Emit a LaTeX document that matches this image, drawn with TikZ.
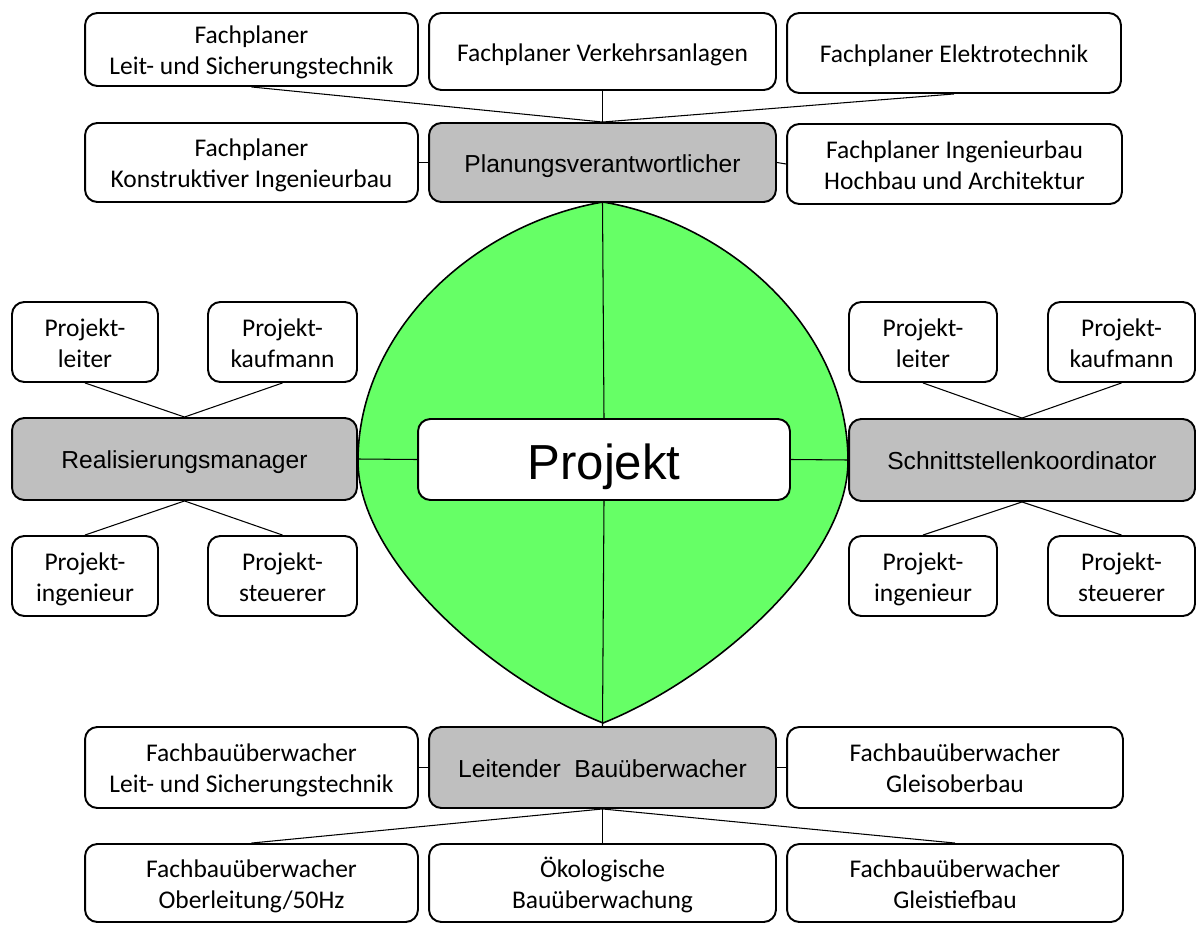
\documentclass[tikz,border=0pt]{standalone}
\usepackage{fontspec}
\setmainfont{Carlito}
\newfontfamily\arialfont{Liberation Sans}

\definecolor{projgreen}{HTML}{66FF66}
\definecolor{leadgray}{HTML}{BFBFBF}

% two text lines, first one with a fixed height
\newcommand{\zweizeilig}[2]{\rule{0pt}{14.2pt}#1\\#2}

\tikzset{
  strutted/.style 2 args={execute at begin node={\rule{0pt}{#1}},
    execute at end node={\rule[-#2]{0pt}{0pt}}},
  fach/.style={draw, line width=1.1pt, rounded corners=7pt, fill=white,
    align=center, inner sep=0pt, font=\fontsize{14.5}{17.6}\selectfont,
    strutted={14.2pt}{3.2pt}},
  lead/.style={fach, fill=leadgray, font=\arialfont\fontsize{14}{17}\selectfont,
    strutted={14.5pt}{3.5pt}},
  link/.style={line width=0.6pt},
}

\begin{document}
\begin{tikzpicture}[x=0.02cm,y=-0.02cm]
\useasboundingbox (0,0) rectangle (1200,926);

% Project shape
\draw[fill=projgreen, line width=0.9pt] (603,202)
  .. controls (474,224) and (358,331) .. (358,461)
  .. controls (358,561) and (493,679) .. (603,723)
  .. controls (713,679) and (848,561) .. (848,461)
  .. controls (848,331) and (732,224) .. (603,202) -- cycle;

\node[fach, minimum width=7.44cm, minimum height=1.62cm,
  font=\arialfont\fontsize{28}{32}\selectfont, strutted={28.2pt}{6pt}] (projekt) at (604,459.5) {Projekt};

% Planning
\node[fach, minimum width=6.66cm, minimum height=1.46cm] (fpLST) at (251.5,49.5) {\zweizeilig{Fachplaner}{Leit- und Sicherungstechnik}};
\node[fach, minimum width=6.94cm, minimum height=1.54cm] (fpVA) at (602.5,51.5) {Fachplaner Verkehrsanlagen};
\node[fach, minimum width=6.68cm, minimum height=1.6cm] (fpET) at (954,53) {Fachplaner Elektrotechnik};
\node[fach, minimum width=6.66cm, minimum height=1.58cm] (fpKI) at (251.5,162.5) {\zweizeilig{Fachplaner}{Konstruktiver Ingenieurbau}};
\node[lead, minimum width=6.94cm, minimum height=1.58cm] (plan) at (602.5,162.5) {Planungsverantwortlicher};
\node[fach, minimum width=6.7cm, minimum height=1.6cm] (fpIH) at (954.5,164) {\zweizeilig{Fachplaner Ingenieurbau}{Hochbau und Architektur}};

% Realisation (left)
\node[fach, minimum width=2.92cm, minimum height=1.6cm] (lLeiter) at (85,342) {\zweizeilig{Projekt-}{leiter}};
\node[fach, minimum width=2.98cm, minimum height=1.6cm] (lKauf) at (282.5,342) {\zweizeilig{Projekt-}{kaufmann}};
\node[lead, minimum width=6.9cm, minimum height=1.64cm] (real) at (184.5,459) {Realisierungsmanager};
\node[fach, minimum width=2.92cm, minimum height=1.6cm] (lIng) at (85,576) {\zweizeilig{Projekt-}{ingenieur}};
\node[fach, minimum width=2.98cm, minimum height=1.6cm] (lSteu) at (282.5,576) {\zweizeilig{Projekt-}{steuerer}};

% Interfaces (right)
\node[fach, minimum width=2.96cm, minimum height=1.6cm] (rLeiter) at (923,342) {\zweizeilig{Projekt-}{leiter}};
\node[fach, minimum width=2.94cm, minimum height=1.6cm] (rKauf) at (1121.5,342) {\zweizeilig{Projekt-}{kaufmann}};
\node[lead, minimum width=6.92cm, minimum height=1.64cm] (schnitt) at (1022,460) {Schnittstellenkoordinator};
\node[fach, minimum width=2.96cm, minimum height=1.6cm] (rIng) at (923,576) {\zweizeilig{Projekt-}{ingenieur}};
\node[fach, minimum width=2.94cm, minimum height=1.6cm] (rSteu) at (1121.5,576) {\zweizeilig{Projekt-}{steuerer}};

% Construction supervision
\node[fach, minimum width=6.66cm, minimum height=1.62cm] (fbLST) at (251.5,767.5) {\zweizeilig{Fachbauüberwacher}{Leit- und Sicherungstechnik}};
\node[lead, minimum width=6.94cm, minimum height=1.62cm] (bau) at (602.5,767.5) {Leitender\ \ Bauüberwacher};
\node[fach, minimum width=6.72cm, minimum height=1.62cm] (fbGO) at (955,767.5) {\zweizeilig{Fachbauüberwacher}{Gleisoberbau}};
\node[fach, minimum width=6.66cm, minimum height=1.56cm] (fbOL) at (251.5,883) {\zweizeilig{Fachbauüberwacher}{Oberleitung/50Hz}};
\node[fach, minimum width=6.94cm, minimum height=1.56cm] (oeko) at (602.5,883) {\zweizeilig{Ökologische}{Bauüberwachung}};
\node[fach, minimum width=6.72cm, minimum height=1.56cm] (fbGT) at (955,883) {\zweizeilig{Fachbauüberwacher}{Gleistiefbau}};

% Connections
\draw[link] (plan.south) -- (projekt.north);
\draw[link] (projekt.south) -- (bau.north);
\draw[link] (real.east) -- (projekt.west);
\draw[link] (projekt.east) -- (schnitt.west);

\draw[link] (fpLST.south) -- (plan.north);
\draw[link] (fpVA.south) -- (plan.north);
\draw[link] (fpET.south) -- (plan.north);
\draw[link] (fpKI.east) -- (plan.west);
\draw[link] (plan.east) -- (fpIH.west);

\draw[link] (lLeiter.south) -- (real.north);
\draw[link] (lKauf.south) -- (real.north);
\draw[link] (real.south) -- (lIng.north);
\draw[link] (real.south) -- (lSteu.north);

\draw[link] (rLeiter.south) -- (schnitt.north);
\draw[link] (rKauf.south) -- (schnitt.north);
\draw[link] (schnitt.south) -- (rIng.north);
\draw[link] (schnitt.south) -- (rSteu.north);

\draw[link] (fbLST.east) -- (bau.west);
\draw[link] (bau.east) -- (fbGO.west);
\draw[link] (bau.south) -- (fbOL.north);
\draw[link] (bau.south) -- (oeko.north);
\draw[link] (bau.south) -- (fbGT.north);

\end{tikzpicture}
\end{document}
